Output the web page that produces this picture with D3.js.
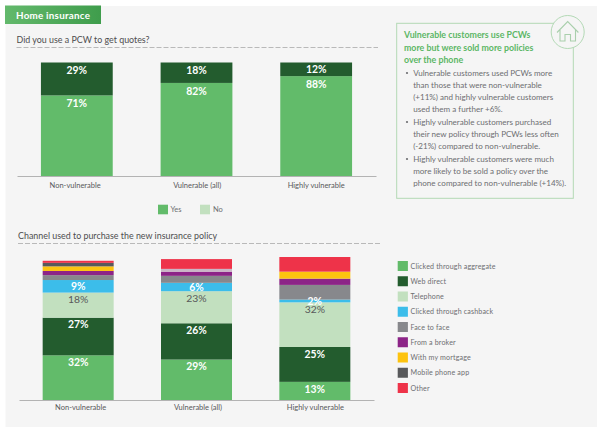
<!DOCTYPE html>
<html><head><meta charset="utf-8">
<script src="https://cdn.jsdelivr.net/npm/d3@7/dist/d3.min.js"></script>
<style>html,body{margin:0;padding:0;background:#fff}svg{display:block;font-family:Lato,sans-serif}</style>
</head><body><svg id="c" width="600" height="434"></svg>
<script>
const groups = ["Non-vulnerable","Vulnerable (all)","Highly vulnerable"];
const pcwYes = [71,82,88];
const pcwNo = [29,18,12];
const channels = ["Clicked through aggregate","Web direct","Telephone","Clicked through cashback","Face to face","From a broker","With my mortgage","Mobile phone app","Other"];
const chAggregate = [32,29,13];
const chWeb = [27,26,25];
const chPhone = [18,23,32];
const chCashback = [9,6,2];
const chFace = [3.5,5,10.5];
const chBroker = [3,3,4.5];
const chMortgage = [3.3,0,5];
const chMobile = [2.5,0,0];
const chPaleBand = [0,2,0];
const chOther = [1.5,7,10.5];
const chColors = ["#62bb6a","#235c2e","#c2e0bf","#3cbdea","#87888c","#8c2487","#fdc30f","#58595b","#ee3349"];
const paleBandColor = "#c9b6c6";
const darkLabel = "#58595b";
const headerText = "Home insurance";
const title1 = "Did you use a PCW to get quotes?";
const title2 = "Channel used to purchase the new insurance policy";
const calloutHead = ["Vulnerable customers use PCWs","more but were sold more policies","over the phone"];
const bullets = [
 ["Vulnerable customers used PCWs more","than those that were non-vulnerable","(+11%) and highly vulnerable customers","used them a further +6%."],
 ["Highly vulnerable customers purchased","their new policy through PCWs less often","(-21%) compared to non-vulnerable."],
 ["Highly vulnerable customers were much","more likely to be sold a policy over the","phone compared to non-vulnerable (+14%)."]
];

const svg = d3.select("#c");
const defs = svg.append("defs");
const g = defs.append("linearGradient").attr("id","hdr");
g.append("stop").attr("offset","0").attr("stop-color","#63b96c");
g.append("stop").attr("offset","1").attr("stop-color","#3f9d4c");

svg.append("rect").attr("x",5.5).attr("y",6).attr("width",591.5).attr("height",421).attr("fill","#f5f5f5");
svg.append("rect").attr("x",5).attr("y",5.5).attr("width",96).attr("height",18.5).attr("fill","url(#hdr)");
svg.append("text").attr("x",16).attr("y",18.5).attr("fill","#fff").attr("font-size",9.8).attr("font-weight",700).attr("letter-spacing",.25).text(headerText);

function sectionTitle(t,x,y,lineY,x2){
  svg.append("text").attr("x",x).attr("y",y).attr("fill","#4d4d4f").attr("font-size",8.9).text(t);
  svg.append("line").attr("x1",x).attr("x2",x2).attr("y1",lineY).attr("y2",lineY)
    .attr("stroke","#a9a9a9").attr("stroke-width",.8).attr("stroke-dasharray","5 2");
}
sectionTitle(title1,16.5,43.2,47.5,378);
sectionTitle(title2,18,239.2,243.5,381);

function stacked(cfg){
  const x = d3.scaleBand().domain(groups).range(cfg.xr).paddingInner(.4).paddingOuter(.2);
  const y = d3.scaleLinear().domain([0,100]).range([cfg.base,cfg.top]);
  let acc = groups.map(()=>0);
  cfg.series.forEach(s=>{
    s.y=[];
    s.values.forEach((v,i)=>{
      if(!v) return;
      const y0=y(acc[i]), y1=y(acc[i]+v);
      svg.append("rect").attr("x",x(groups[i])).attr("width",x.bandwidth()).attr("y",y1).attr("height",y0-y1).attr("fill",s.color);
      s.y[i]=[y1,y0];
      acc[i]+=v;
    });
  });
  cfg.series.forEach(s=>{
    if(!s.label) return;
    s.values.forEach((v,i)=>{
      const [y1,y0]=s.y[i];
      svg.append("text").attr("x",x(groups[i])+x.bandwidth()/2).attr("y",y1+Math.min(cfg.off,(y0-y1)/2))
        .attr("dy","0.36em").attr("text-anchor","middle").attr("font-size",10.4).attr("font-weight",s.weight)
        .attr("fill",s.label).text(v+"%");
    });
  });
  const ax = svg.append("g").attr("transform",`translate(0,${cfg.base})`).call(d3.axisBottom(x).tickSize(0).tickPadding(cfg.pad));
  ax.select(".domain").attr("stroke","#b3b3b3").attr("stroke-width",1.2);
  ax.selectAll("text").attr("font-family","Lato,sans-serif").attr("font-size",7.5).attr("fill","#58595b")
    .attr("dx",(d,i)=>cfg.dx[i]);
}

stacked({xr:[17,376],base:176,top:62.5,off:8,pad:7,dx:[-1.7,.7,0],series:[
  {values:pcwYes,color:chColors[0],label:"#fff",weight:700},
  {values:pcwNo,color:chColors[1],label:"#fff",weight:700}
]});
stacked({xr:[19,374],base:400,top:260.5,off:7,pad:5,dx:[2.5,1.5,.5],series:[
  {values:chAggregate,color:chColors[0],label:"#fff",weight:700},
  {values:chWeb,color:chColors[1],label:"#fff",weight:700},
  {values:chPhone,color:chColors[2],label:darkLabel,weight:400},
  {values:chCashback,color:chColors[3],label:"#fff",weight:700},
  {values:chFace,color:chColors[4]},
  {values:chBroker,color:chColors[5]},
  {values:chMortgage,color:chColors[6]},
  {values:chMobile,color:chColors[7]},
  {values:chPaleBand,color:paleBandColor},
  {values:chOther,color:chColors[8]}
]});

// top legend
const topLegend=[["Yes",chColors[0],158,170.5],["No",chColors[2],200,213]];
topLegend.forEach(d=>{
  svg.append("rect").attr("x",d[2]).attr("y",204.7).attr("width",10).attr("height",9.6).attr("fill",d[1]);
  svg.append("text").attr("x",d[3]).attr("y",212.3).attr("font-size",7.5).attr("fill","#6d6e71").text(d[0]);
});
// right legend
const ly=d3.scalePoint().domain(channels).range([266,388]);
channels.forEach((c,i)=>{
  svg.append("rect").attr("x",397.7).attr("y",ly(c)-5).attr("width",10.2).attr("height",10).attr("fill",chColors[i]);
  svg.append("text").attr("x",410.5).attr("y",ly(c)+2.6).attr("font-size",7.1).attr("letter-spacing",.15).attr("fill","#6d6e71").text(c);
});

// callout
svg.append("rect").attr("x",396.7).attr("y",23.3).attr("width",176.6).attr("height",175).attr("fill","#f5f5f5").attr("stroke","#b3d9b5").attr("stroke-width",1);
calloutHead.forEach((t,i)=>svg.append("text").attr("x",404).attr("y",38.3+i*12.2).attr("font-size",8.8).attr("font-weight",700).attr("fill","#5cb766").text(t));
let ty=[75.5,124.5,161.5];
bullets.forEach((b,bi)=>{
  svg.append("circle").attr("cx",407).attr("cy",ty[bi]-2.5).attr("r",1.1).attr("fill","#6d6e71");
  b.forEach((t,i)=>svg.append("text").attr("x",413.2).attr("y",ty[bi]+i*12).attr("font-size",8.05).attr("fill","#6d6e71").text(t));
});
// house icon
svg.append("circle").attr("cx",567.7).attr("cy",32).attr("r",16.5).attr("fill","#f5f5f5").attr("stroke","#b3d9b5").attr("stroke-width",1);
svg.append("path").attr("d","M557 32.5L567.7 21.5L578.4 32.5M560 30V41H565V34.5H570.5V41H575.5V30")
  .attr("fill","none").attr("stroke","#a9cfac").attr("stroke-width",1.1);
</script></body></html>
